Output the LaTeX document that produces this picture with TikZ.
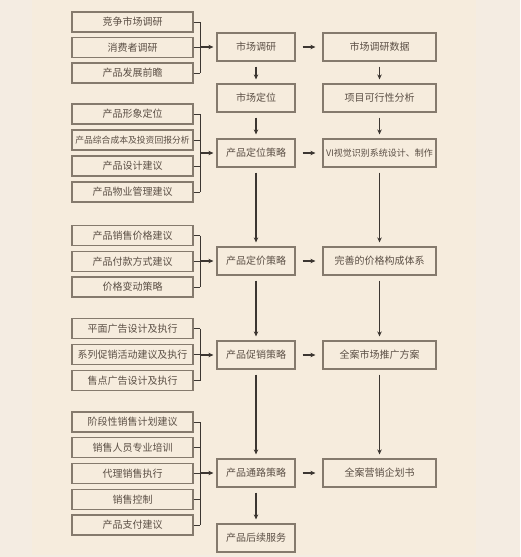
\documentclass[tikz,border=0pt]{standalone}
\usepackage{fontspec}
\setmainfont{Noto Sans CJK SC}
\usepackage{xcolor}
\usetikzlibrary{arrows.meta}

\definecolor{outerbg}{HTML}{F4ECE2}
\definecolor{panelbg}{HTML}{F6ECDD}
\definecolor{boxline}{HTML}{857A6D}
\definecolor{inktext}{HTML}{5B4F45}
\definecolor{inkline}{HTML}{3C3631}

\begin{document}
\begin{tikzpicture}[
  x=1pt, y=-1pt,
  font=\fontsize{10}{12}\selectfont,
  item/.style={draw=boxline, line width=1.2pt, rectangle, text=inktext,
               minimum width=121pt, minimum height=20pt, inner sep=1pt},
  stage/.style={item, minimum width=78pt, minimum height=28pt},
  result/.style={item, minimum width=113pt, minimum height=28pt},
  link/.style={draw=inkline, line width=1.1pt,
               -{Stealth[length=5pt, width=4.5pt]},
               shorten <=5pt, shorten >=4pt},
  side/.style={link, shorten <=7pt, shorten >=7pt},
  bar/.style={draw=inkline, line width=0.9pt}
]
\useasboundingbox (0,0) rectangle (520,557);
\fill[outerbg] (0,0) rectangle (520,557);
\fill[panelbg] (32,0) rectangle (476,555);

\coordinate (brk) at (200,0);

% left column
\node[item] (a1) at (132.5,22)  {竞争市场调研};
\node[item] (a2) at (132.5,47.5) {消费者调研};
\node[item] (a3) at (132.5,73)  {产品发展前瞻};

\node[item] (b1) at (132.5,114) {产品形象定位};
\node[item, font=\fontsize{8.8}{10}\selectfont] (b2) at (132.5,140) {产品综合成本及投资回报分析};
\node[item] (b3) at (132.5,166) {产品设计建议};
\node[item] (b4) at (132.5,192) {产品物业管理建议};

\node[item] (c1) at (132.5,235.5) {产品销售价格建议};
\node[item] (c2) at (132.5,261.5) {产品付款方式建议};
\node[item] (c3) at (132.5,287)   {价格变动策略};

\node[item] (d1) at (132.5,328.5) {平面广告设计及执行};
\node[item] (d2) at (132.5,354.5) {系列促销活动建议及执行};
\node[item] (d3) at (132.5,380.5) {售点广告设计及执行};

\node[item] (e1) at (132.5,422)   {阶段性销售计划建议};
\node[item] (e2) at (132.5,447.5) {销售人员专业培训};
\node[item] (e3) at (132.5,473.5) {代理销售执行};
\node[item] (e4) at (132.5,499.5) {销售控制};
\node[item] (e5) at (132.5,525)   {产品支付建议};

% middle column
\node[stage] (m1) at (256,47)  {市场调研};
\node[stage] (m2) at (256,98)  {市场定位};
\node[stage] (m3) at (256,153) {产品定位策略};
\node[stage] (m4) at (256,261) {产品定价策略};
\node[stage] (m5) at (256,355) {产品促销策略};
\node[stage] (m6) at (256,473) {产品通路策略};
\node[stage] (m7) at (256,538) {产品后续服务};

% right column
\node[result] (r1) at (379.5,47)  {市场调研数据};
\node[result] (r2) at (379.5,98)  {项目可行性分析};
\node[result, font=\fontsize{9}{10}\selectfont] (r3) at (379.5,153) {VI视觉识别系统设计、制作};
\node[result] (r4) at (379.5,261) {完善的价格构成体系};
\node[result] (r5) at (379.5,355) {全案市场推广方案};
\node[result] (r6) at (379.5,473) {全案营销企划书};

% brackets
\foreach \n in {a1,a2,a3,b1,b2,b3,b4,c1,c2,c3,d1,d2,d3,e1,e2,e3,e4,e5}
  \draw[bar] (\n.east) -- (\n.east -| brk);
\draw[bar] (a1.east -| brk) -- (a3.east -| brk);
\draw[bar] (b1.east -| brk) -- (b4.east -| brk);
\draw[bar] (c1.east -| brk) -- (c3.east -| brk);
\draw[bar] (d1.east -| brk) -- (d3.east -| brk);
\draw[bar] (e1.east -| brk) -- (e5.east -| brk);

\draw[link, shorten <=0pt, shorten >=3pt] (m1.west -| brk) -- (m1.west);
\draw[link, shorten <=0pt, shorten >=3pt] (m3.west -| brk) -- (m3.west);
\draw[link, shorten <=0pt, shorten >=3pt] (m4.west -| brk) -- (m4.west);
\draw[link, shorten <=0pt, shorten >=3pt] (m5.west -| brk) -- (m5.west);
\draw[link, shorten <=0pt, shorten >=3pt] (m6.west -| brk) -- (m6.west);

% main chain
\draw[link] (m1) -- (m2);
\draw[link] (m2) -- (m3);
\draw[link] (m3) -- (m4);
\draw[link] (m4) -- (m5);
\draw[link] (m5) -- (m6);
\draw[link] (m6) -- (m7);

\draw[link] (r1) -- (r2);
\draw[link] (r2) -- (r3);
\draw[link] (r3) -- (r4);
\draw[link] (r4) -- (r5);
\draw[link] (r5) -- (r6);

\draw[side] (m1) -- (r1);
\draw[side] (m3) -- (r3);
\draw[side] (m4) -- (r4);
\draw[side] (m5) -- (r5);
\draw[side] (m6) -- (r6);
\end{tikzpicture}
\end{document}
